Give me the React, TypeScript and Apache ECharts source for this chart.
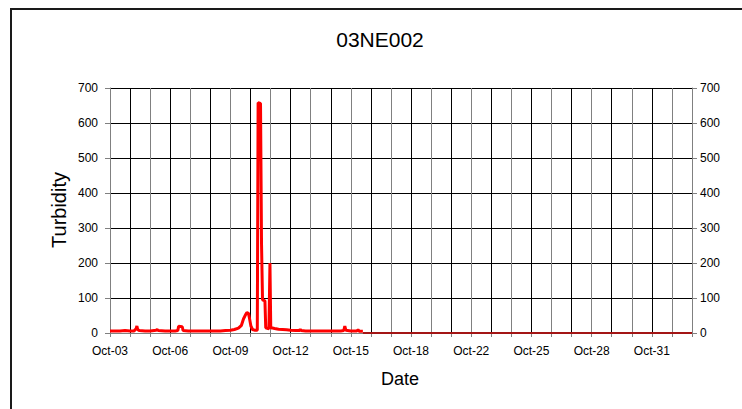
import React, { useEffect, useRef } from "react";
import * as echarts from "echarts";

// Days since Oct-03 (x) and turbidity readings (y)
const dayOffset = [
  0, 0.25, 0.5, 0.75, 1.0, 1.2, 1.3, 1.34, 1.38, 1.45, 1.75, 2.0, 2.3, 2.35, 2.4, 2.75,
  3.0, 3.25, 3.38, 3.42, 3.6, 3.64, 3.9, 4.25, 4.5, 4.75, 5.0, 5.25, 5.5, 5.75, 6.0,
  6.2, 6.4, 6.55, 6.65, 6.75, 6.82, 6.9, 6.95, 7.02, 7.1, 7.2, 7.34, 7.38, 7.5, 7.55,
  7.6, 7.72, 7.76, 7.92, 7.97, 8.01, 8.05, 8.2, 8.4, 8.6, 8.8, 9.0, 9.25, 9.45, 9.48,
  9.52, 9.75, 10.0, 10.25, 10.5, 10.75, 11.0, 11.25, 11.5, 11.65, 11.7, 11.75, 12.0,
  12.3, 12.36, 12.42, 12.6,
];
const turbidity = [
  6, 6, 6, 7, 6, 6, 12, 20, 10, 7, 6, 6, 8, 10, 7, 6,
  6, 6, 7, 19, 18, 7, 6, 6, 6, 6, 6, 6, 6, 7, 8,
  10, 14, 22, 40, 52, 58, 56, 42, 20, 10, 8, 8, 658, 656, 255,
  95, 92, 15, 12, 200, 14, 15, 13, 11, 10, 9, 8, 7, 7, 11,
  7, 6, 6, 6, 6, 6, 6, 6, 6, 7, 20, 8, 6,
  6, 9, 5, 5,
];
// Zero readings after the logger stopped
const zeroDays = [12.6, 29];
const zeroValues = [0, 0];

const dateLabels = [
  "Oct-03", "Oct-06", "Oct-09", "Oct-12", "Oct-15",
  "Oct-18", "Oct-22", "Oct-25", "Oct-28", "Oct-31",
];
const labelStep = 3;
const yTicks = [0, 100, 200, 300, 400, 500, 600, 700];

const FONT = "'Liberation Sans', Arial, sans-serif";

export default function App() {
  const ref = useRef<HTMLDivElement>(null);
  useEffect(() => {
    if (!ref.current) return;
    const chart = echarts.init(ref.current, undefined, { renderer: "svg" });
    const yAxisBase = {
      type: "value",
      min: yTicks[0],
      max: yTicks[yTicks.length - 1],
      interval: yTicks[1] - yTicks[0],
      axisLine: { show: true, lineStyle: { color: "#808080", width: 1 } },
      axisTick: { show: true, inside: false, length: 5, lineStyle: { color: "#808080" } },
      axisLabel: { color: "#000", fontSize: 12, fontFamily: FONT },
    };
    chart.setOption({
      animation: false,
      backgroundColor: "#fff",
      grid: { left: 110, right: 50, top: 88, bottom: 76, containLabel: false },
      xAxis: {
        type: "value",
        min: 0,
        max: 29,
        interval: 1,
        axisLine: { show: true, onZero: false, lineStyle: { color: "#808080", width: 1 } },
        axisTick: { show: true, length: 4, lineStyle: { color: "#808080" } },
        axisLabel: {
          color: "#000",
          fontSize: 12,
          fontFamily: FONT,
          margin: 12,
          showMinLabel: true,
          showMaxLabel: true,
          formatter: (v: number) =>
            v % labelStep === 0 && dateLabels[v / labelStep] ? dateLabels[v / labelStep] : "",
        },
        splitLine: { show: true, lineStyle: { color: ["#808080", "#000000"], width: 1 } },
      },
      yAxis: [
        {
          ...yAxisBase,
          position: "left",
          axisLabel: { ...yAxisBase.axisLabel, margin: 12 },
          splitLine: { show: true, lineStyle: { color: "#000", width: 1 } },
        },
        {
          ...yAxisBase,
          position: "right",
          axisLabel: { ...yAxisBase.axisLabel, margin: 8 },
          splitLine: { show: false },
        },
      ],
      series: [
        {
          type: "line",
          data: zeroDays.map((d, i) => [d, zeroValues[i]]),
          showSymbol: false,
          lineStyle: { color: "#a31515", width: 2 },
          z: 3,
        },
        {
          type: "line",
          data: dayOffset.map((d, i) => [d, turbidity[i]]),
          showSymbol: false,
          lineStyle: { color: "#ff0000", width: 3 },
          z: 4,
        },
      ],
      graphic: [
        {
          type: "rect",
          shape: { x: 11, y: 9, width: 760, height: 430 },
          style: { fill: "none", stroke: "#1a1a1a", lineWidth: 2 },
          silent: true,
        },
        {
          type: "text",
          x: 380,
          y: 39,
          style: {
            text: "03NE002",
            fontSize: 21,
            fontFamily: FONT,
            fill: "#000",
            align: "center",
            verticalAlign: "middle",
          },
        },
        {
          type: "text",
          x: 59,
          y: 210,
          rotation: Math.PI / 2,
          style: {
            text: "Turbidity",
            fontSize: 20,
            fontFamily: FONT,
            fill: "#000",
            align: "center",
            verticalAlign: "middle",
          },
        },
        {
          type: "text",
          x: 400,
          y: 379,
          style: {
            text: "Date",
            fontSize: 18,
            fontFamily: FONT,
            fill: "#000",
            align: "center",
            verticalAlign: "middle",
          },
        },
      ],
    });
    return () => chart.dispose();
  }, []);
  return (
    <div
      ref={ref}
      style={{ position: "absolute", left: 0, top: 0, width: 742, height: 409, background: "#fff" }}
    />
  );
}
